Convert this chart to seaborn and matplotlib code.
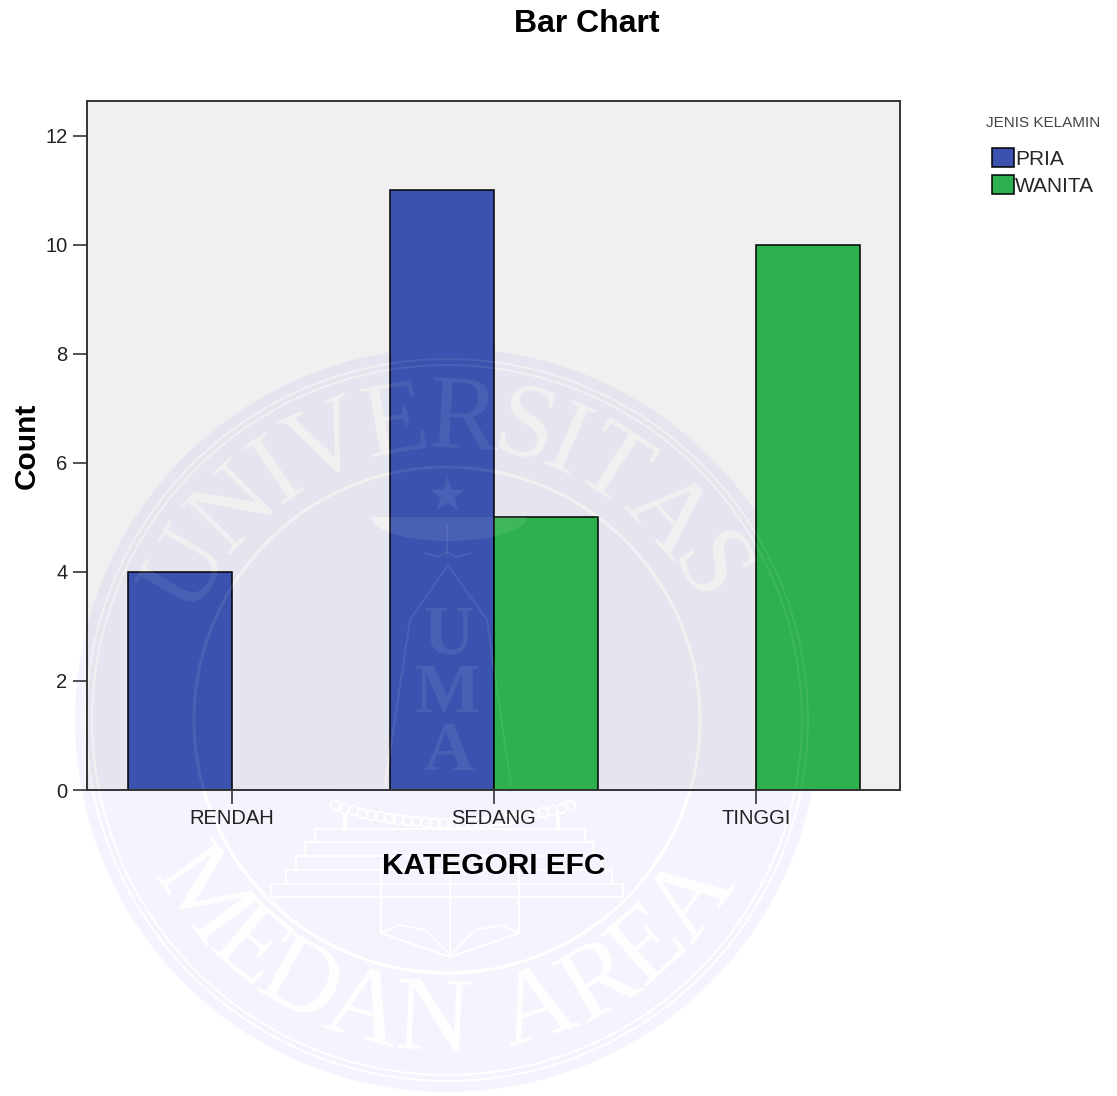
# -*- coding: utf-8 -*-
import numpy as np
import pandas as pd
import seaborn as sns
import matplotlib
matplotlib.use('Agg')
import matplotlib.pyplot as plt
from matplotlib.lines import Line2D
from matplotlib.patches import Circle, Rectangle, Polygon
from matplotlib.textpath import TextPath
from matplotlib.font_manager import FontProperties

""" data """
categories = ['RENDAH', 'SEDANG', 'TINGGI']
pria = [4, 11, 0]
wanita = [0, 5, 10]
y_ticks = [0, 2, 4, 6, 8, 10, 12]
hue_names = ['PRIA', 'WANITA']
colors = ['#3B53AE', '#2EB04E']

""" config """
W, H = 1117, 1096
sns.set_style('white')
plt.rcParams['font.family'] = ['Liberation Sans', 'DejaVu Sans']

df = pd.DataFrame({
    'kategori': categories * 2,
    'jenis': ['PRIA'] * 3 + ['WANITA'] * 3,
    'count': pria + wanita,
})

""" watermark, pixel coordinates """
CX, CY = 447, 720
SERIF = 'Liberation Serif'


def arc_text(target, trans, text, start, end, radius, top, color, alpha, clip):
    # spread the letters over an arc, proportionally to their widths
    fp = FontProperties(family=SERIF)
    widths = [TextPath((0, 0), c, size=1, prop=fp).get_extents().width if c != ' ' else 0.3 for c in text]
    widths = np.array(widths) + 0.07
    edges = np.concatenate([[0], np.cumsum(widths)])
    mids = (edges[:-1] + edges[1:]) / 2
    mids = (mids - mids[0]) / (mids[-1] - mids[0])
    for c, m in zip(text, mids):
        th = start + (end - start) * m
        x = CX + radius * np.cos(np.radians(th))
        y = CY - radius * np.sin(np.radians(th))
        rot = th - 90 if top else th + 90
        target.text(x, y, c, transform=trans, family=SERIF, fontsize=76, color=color, alpha=alpha,
                    rotation=rot, rotation_mode='anchor', ha='center', va='center', clip_on=clip)


def draw_logo(target, trans, color, alpha, clip):
    def line(xs, ys, lw=1.3):
        target.add_artist(Line2D(xs, ys, transform=trans, color=color, alpha=alpha, lw=lw))

    for r, lw in [(361, 1.4), (355, 1.4), (253, 2.2)]:
        target.add_artist(Circle((CX, CY), r, transform=trans, fc='none', ec=color, alpha=alpha, lw=lw))
    arc_text(target, trans, 'UNIVERSITAS', 150, 30, 298, True, color, alpha, clip)
    arc_text(target, trans, 'MEDAN AREA', 216, 324, 305, False, color, alpha, clip)

    # star and bird
    target.add_artist(Line2D([447], [495], transform=trans, marker='*', ms=27, mfc=color, mec='none',
                             alpha=alpha, ls='none'))
    t = np.linspace(0, np.pi, 40)
    target.add_patch(Polygon(np.c_[449 + 78 * np.cos(t), 517 + 24 * np.sin(t)], transform=trans,
                             fc=color, ec='none', alpha=alpha))
    line([447, 447], [525, 556])
    line([425, 438, 447, 456, 470], [553, 557, 552, 557, 553])

    # shield and letters
    line([385, 410, 448, 487, 511], [785, 620, 565, 620, 785], lw=1.5)
    for c, yc in zip('UMA', [637, 695, 753]):
        target.text(448, yc, c, transform=trans, family=SERIF, weight='bold', fontsize=50, color=color,
                    alpha=alpha, ha='center', va='center', clip_on=clip)

    # chain
    x = np.linspace(335, 570, 27)
    y = 805 + 18 * (1 - ((x - 452) / 118) ** 2)
    target.add_artist(Line2D(x, y, transform=trans, marker='o', ms=7, mfc='none', mec=color, mew=1.4,
                             alpha=alpha, ls='none'))
    line([345, 345], [815, 829], lw=3)
    line([558, 558], [815, 829], lw=3)

    # stairs
    for x0, x1, y0, y1 in [(315, 585, 829, 842), (305, 593, 842, 856), (296, 602, 856, 870),
                           (286, 612, 870, 884), (271, 623, 884, 897)]:
        target.add_artist(Rectangle((x0, y0), x1 - x0, y1 - y0, transform=trans, fc='none', ec=color,
                                    alpha=alpha, lw=1.4))

    # book
    line([381, 381, 450, 519, 519], [860, 933, 957, 933, 860], lw=1.5)
    line([450, 450], [865, 957])
    line([381, 400, 425, 450], [933, 925, 930, 955])
    line([519, 500, 475, 450], [933, 925, 930, 955])


""" figure """
fig = plt.figure(figsize=(W / 100, H / 100), dpi=100, facecolor='white')

wm = fig.add_axes([0, 0, 1, 1], zorder=-1)
wm.set_xlim(0, W)
wm.set_ylim(H, 0)
wm.axis('off')
wm.add_artist(Circle((CX, CY), 372, fc='#F4F4FF', ec='none'))
draw_logo(wm, wm.transData, 'white', 1, False)

ax = fig.add_axes([87 / W, (H - 790) / H, 813 / W, 689 / H], zorder=1)
ax.set_facecolor((0, 0, 0, 0.059))
sns.barplot(data=df, x='kategori', y='count', hue='jenis', order=categories, hue_order=hue_names,
            palette=colors, width=0.794, gap=0, edgecolor='black', linewidth=1.1, saturation=1, ax=ax)

ax.set_xlim(-0.553, 2.55)
ax.set_ylim(0, 12.64)
ax.set_yticks(y_ticks)
ax.tick_params(axis='both', length=10, width=1.1, color='#222222', labelcolor='#222222', labelsize=14.5,
               left=True, bottom=True, pad=4)
for s in ax.spines.values():
    s.set_visible(True)
    s.set_color('#333333')
    s.set_linewidth(1.4)
ax.set_xlabel('KATEGORI EFC', fontsize=21.5, fontweight='bold', color='black', labelpad=17)
ax.set_ylabel('Count', fontsize=21.5, fontweight='bold', color='black', labelpad=3)

# faint logo over the bars
draw_logo(ax, wm.transData, 'white', 0.08, True)

fig.suptitle('Bar Chart', x=587 / W, y=1 - 24 / H, va='center', fontsize=23, fontweight='bold', color='black')

sns.move_legend(ax, 'upper left', bbox_to_anchor=(986 / W, 1 - 116 / H), bbox_transform=fig.transFigure,
                title='JENIS KELAMIN', frameon=False, fontsize=15, title_fontsize=11, borderpad=0,
                borderaxespad=0, handlelength=1.05, handleheight=1.05, handletextpad=0.08, labelspacing=0.3)
leg = ax.get_legend()
leg.get_title().set_color('#444444')
leg.set_zorder(10)
leg._legend_box.sep = 13

fig.savefig('out.png', dpi=100)
